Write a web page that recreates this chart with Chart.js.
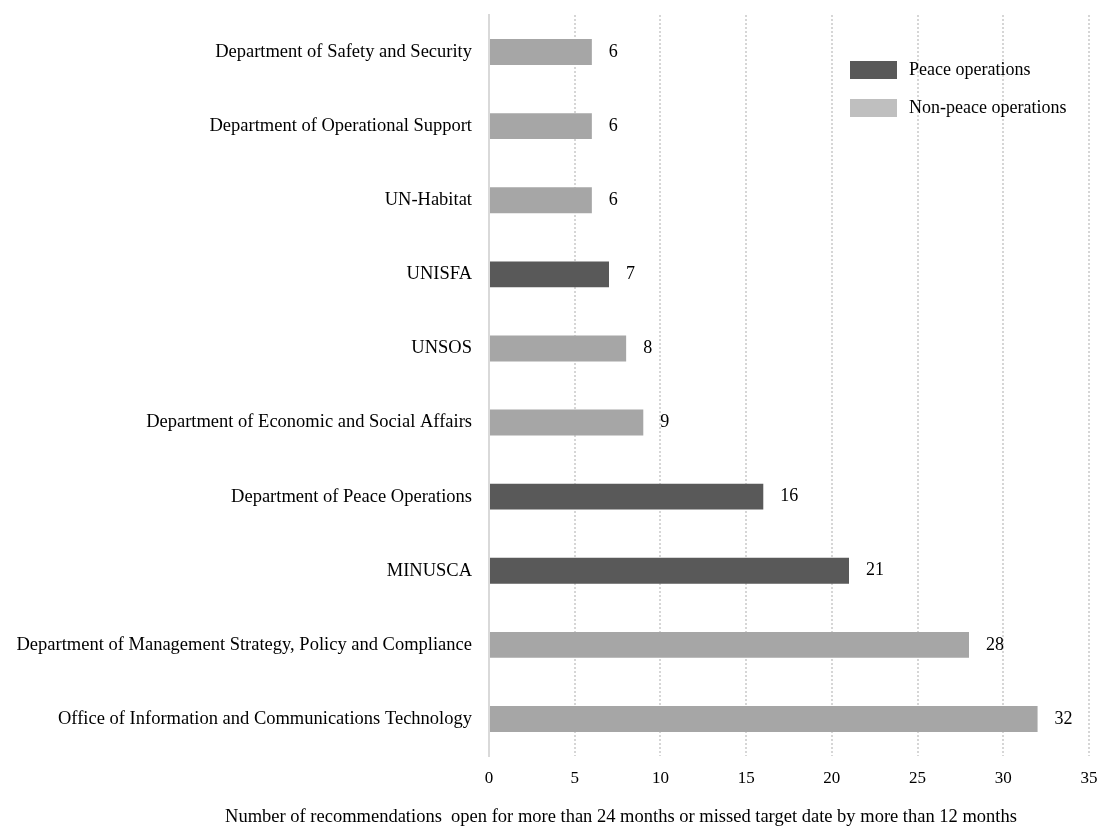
<!DOCTYPE html>
<html>
<head>
<meta charset="utf-8">
<script src="https://cdn.jsdelivr.net/npm/chart.js@4.4.1/dist/chart.umd.min.js"></script>
<style>
html,body{margin:0;padding:0;background:#fff;}
#wrap{width:1102px;height:827px;position:relative;}
</style>
</head>
<body>
<div id="wrap"><canvas id="c" width="1102" height="827"></canvas></div>
<script>
const categories = [
  "Department of Safety and Security",
  "Department of Operational Support",
  "UN-Habitat",
  "UNISFA",
  "UNSOS",
  "Department of Economic and Social Affairs",
  "Department of Peace Operations",
  "MINUSCA",
  "Department of Management Strategy, Policy and Compliance",
  "Office of Information and Communications Technology"
];
const values = [6, 6, 6, 7, 8, 9, 16, 21, 28, 32];
const isPeace = [false, false, false, true, false, false, true, true, false, false];
const seriesNames = ["Peace operations", "Non-peace operations"];
const xTicks = [0, 5, 10, 15, 20, 25, 30, 35];
const axisTitle = "Number of recommendations  open for more than 24 months or missed target date by more than 12 months";

const FONT = "'Liberation Serif', 'Times New Roman', serif";
const peaceData = values.map((v, i) => isPeace[i] ? v : null);
const nonPeaceData = values.map((v, i) => isPeace[i] ? null : v);

const legendColors = ["#595959", "#bfbfbf"];

const labelPlugin = {
  id: 'valueLabels',
  afterDatasetsDraw(chart) {
    const ctx = chart.ctx;
    ctx.save();
    ctx.font = "18px " + FONT;
    ctx.fillStyle = "#000";
    ctx.textAlign = "left";
    ctx.textBaseline = "middle";
    chart.data.datasets.forEach((ds, di) => {
      const meta = chart.getDatasetMeta(di);
      meta.data.forEach((bar, i) => {
        const v = ds.data[i];
        if (v === null || v === undefined) return;
        ctx.fillText(String(v), bar.x + 17, bar.y);
      });
    });
    ctx.restore();
  }
};

const legendPlugin = {
  id: 'insideLegend',
  afterDraw(chart) {
    const ctx = chart.ctx;
    const a = chart.chartArea;
    ctx.save();
    ctx.font = "18px " + FONT;
    ctx.textAlign = "left";
    ctx.textBaseline = "middle";
    const x0 = a.right - 239;
    const ys = [a.top + 46, a.top + 84];
    seriesNames.forEach((name, i) => {
      ctx.fillStyle = legendColors[i];
      ctx.fillRect(x0, ys[i], 47, 18);
      ctx.fillStyle = "#000";
      ctx.fillText(name, x0 + 59, ys[i] + 9);
    });
    // x axis title
    ctx.font = "18.5px " + FONT;
    ctx.textAlign = "center";
    ctx.fillText(axisTitle, 621, chart.height - 10);
    ctx.restore();
  }
};

new Chart(document.getElementById('c'), {
  type: 'bar',
  data: {
    labels: categories,
    datasets: [
      { label: seriesNames[0], data: peaceData, backgroundColor: "#595959", barPercentage: 0.35, categoryPercentage: 1 },
      { label: seriesNames[1], data: nonPeaceData, backgroundColor: "#a6a6a6", barPercentage: 0.35, categoryPercentage: 1 }
    ]
  },
  options: {
    indexAxis: 'y',
    responsive: false,
    animation: false,
    layout: { padding: { top: 15, right: 13, bottom: 0, left: 0 } },
    plugins: { legend: { display: false }, tooltip: { enabled: false } },
    scales: {
      y: {
        stacked: true,
        grid: { display: false, drawTicks: false },
        border: { display: true, color: "#d9d9d9", width: 2 },
        ticks: { color: "#000", font: { family: FONT, size: 18.5 }, padding: 17 },
        afterFit(s) { s.width = 489; s.paddingTop = 0; s.paddingBottom = 0; }
      },
      x: {
        stacked: true,
        min: 0, max: 35,
        afterBuildTicks(s) { s.ticks = xTicks.map(v => ({ value: v })); },
        grid: { color: "#d6d6d6", lineWidth: 2, drawTicks: false },
        border: { display: false, dash: [2, 2] },
        ticks: { color: "#000", font: { family: FONT, size: 17 }, padding: 12 },
        afterFit(s) { s.height = 71; s.paddingLeft = 0; s.paddingRight = 0; }
      }
    }
  },
  plugins: [labelPlugin, legendPlugin]
});
</script>
</body>
</html>
